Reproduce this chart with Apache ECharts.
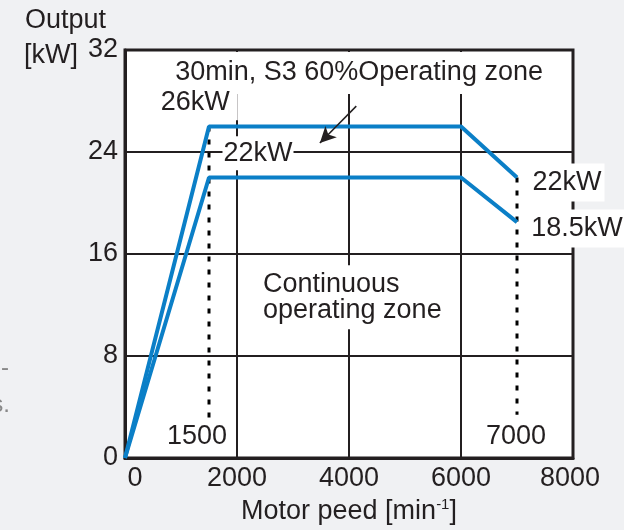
<!DOCTYPE html>
<html>
<head>
<meta charset="utf-8">
<script src="https://cdn.jsdelivr.net/npm/echarts@6/dist/echarts.min.js"></script>
<style>
  html, body { margin: 0; padding: 0; background: #f0f1f3; }
  #chart { width: 624px; height: 530px; }
</style>
</head>
<body>
<div id="chart"></div>
<script>
  // 速度-出力特性
  const speed = [0, 1500, 6000, 7000];
  const s3Output = [0, 26, 26, 22];       // 30min, S3 60%
  const contOutput = [0, 22, 22, 18.5];   // continuous

  // 点線 (基底速度 / 最高速度)
  const guideSpeed = [1500, 7000];
  const guideTop = [26, 22];
  const guideBottom = [2.9, 3.4];

  // 注記テキストと位置 (データ座標)
  const noteTexts = ['30min, S3 60%Operating zone', '26kW', '22kW', '22kW', '18.5kW', '1500', '7000', 'Continuous\noperating zone'];
  const noteX = [4180, 1290, 2375, 7893, 8071, 1286, 6982, 2393];
  const noteY = [30.2, 27.9, 23.9, 21.6, 18.0, 1.65, 1.65, 12.6];

  // 矢印 (注記 → 領域)
  const arrowFrom = [4130, 27.6];
  const arrowTo = [3480, 24.7];

  const ink = '#231f20';
  const blue = '#0b7fc7';
  const font = '"Liberation Sans", Arial, Helvetica, sans-serif';
  const fs = 27;

  const notePadding = [[9, 6, 7, 6], [4, 8, 6, 4], [4, 1, 4, 1], [6, 3, 6, 3], [6, 3, 6, 3], 0, 0, [6, 4, 6, 4]];
  const noteBg = ['#fff', '#fff', '#fff', '#fff', '#fff', 'transparent', 'transparent', '#fff'];

  const chart = echarts.init(document.getElementById('chart'));

  const pairs = (xs, ys) => xs.map((x, i) => [x, ys[i]]);

  const guideSeries = guideSpeed.map((s, i) => ({
    type: 'line',
    data: [[s, guideTop[i]], [s, guideBottom[i]]],
    symbol: 'none',
    z: 3,
    lineStyle: { color: '#000', width: 3, type: [5, 8] }
  }));

  const noteData = noteTexts.map((t, i) => ({
    value: [noteX[i], noteY[i]],
    label: {
      formatter: t,
      align: i === 7 ? 'left' : 'center',
      padding: notePadding[i],
      backgroundColor: noteBg[i]
    }
  }));

  const option = {
    animation: false,
    backgroundColor: '#f0f1f3',
    grid: {
      left: 125, right: 51, top: 50, bottom: 72,
      show: true,
      backgroundColor: '#fff',
      borderColor: ink,
      borderWidth: 3,
      containLabel: false,
      outerBoundsMode: 'none'
    },
    xAxis: {
      type: 'value',
      min: 0, max: 8000, interval: 2000,
      axisLine: { show: true, lineStyle: { color: ink, width: 3 } },
      axisTick: { show: false },
      splitLine: { show: true, lineStyle: { color: ink, width: 2 } },
      axisLabel: {
        color: ink, fontSize: fs, fontFamily: font, margin: 7,
        formatter: v => v === 0 ? '{first|0}' : (v === 8000 ? '{last|8000}' : String(v)),
        rich: {
          first: { color: ink, fontSize: fs, fontFamily: font, padding: [0, 0, 0, 20] },
          last: { color: ink, fontSize: fs, fontFamily: font, padding: [0, 6, 0, 0] }
        }
      },
      name: 'Motor peed [min{sup|-1}]',
      nameLocation: 'middle',
      nameGap: 37,
      nameTextStyle: {
        color: ink, fontSize: fs, fontFamily: font,
        rich: {
          sup: { color: ink, fontSize: 15, fontFamily: font, verticalAlign: 'top', lineHeight: 30 }
        }
      }
    },
    yAxis: {
      type: 'value',
      min: 0, max: 32, interval: 8,
      axisLine: { show: true, lineStyle: { color: ink, width: 3 } },
      axisTick: { show: false },
      splitLine: { show: true, lineStyle: { color: ink, width: 2 } },
      axisLabel: { color: ink, fontSize: fs, fontFamily: font, margin: 7 }
    },
    graphic: [
      { type: 'text', x: 25, y: 21, style: { text: 'Output', fontSize: fs, fontFamily: font, fill: ink, verticalAlign: 'middle' } },
      { type: 'text', x: 24, y: 56, style: { text: '[kW]', fontSize: fs, fontFamily: font, fill: ink, verticalAlign: 'middle' } },
      { type: 'text', x: 9, y: 368, style: { text: '-', fontSize: 24, fontFamily: font, fill: '#888', align: 'right', verticalAlign: 'middle' } },
      { type: 'text', x: 10, y: 405, style: { text: 's.', fontSize: 24, fontFamily: font, fill: '#888', align: 'right', verticalAlign: 'middle' } }
    ],
    series: [
      ...guideSeries,
      {
        name: '30min, S3 60%',
        type: 'line',
        data: pairs(speed, s3Output),
        symbol: 'none',
        z: 4,
        lineStyle: { color: blue, width: 4 }
      },
      {
        name: 'Continuous',
        type: 'line',
        data: pairs(speed, contOutput),
        symbol: 'none',
        z: 4,
        lineStyle: { color: blue, width: 4 },
        markLine: {
          silent: true,
          symbol: ['none', 'arrow'],
          symbolSize: [12, 16],
          label: { show: false },
          lineStyle: { color: ink, width: 1.5, type: 'solid' },
          data: [[{ coord: arrowFrom }, { coord: arrowTo }]]
        }
      },
      {
        name: 'notes',
        type: 'scatter',
        data: noteData,
        symbolSize: 0,
        clip: false,
        z: 6,
        silent: true,
        itemStyle: { opacity: 1 },
        label: {
          show: true,
          position: 'inside',
          color: ink,
          opacity: 1,
          fontSize: fs,
          fontFamily: font,
          lineHeight: 26
        }
      }
    ]
  };

  chart.setOption(option);
</script>
</body>
</html>
